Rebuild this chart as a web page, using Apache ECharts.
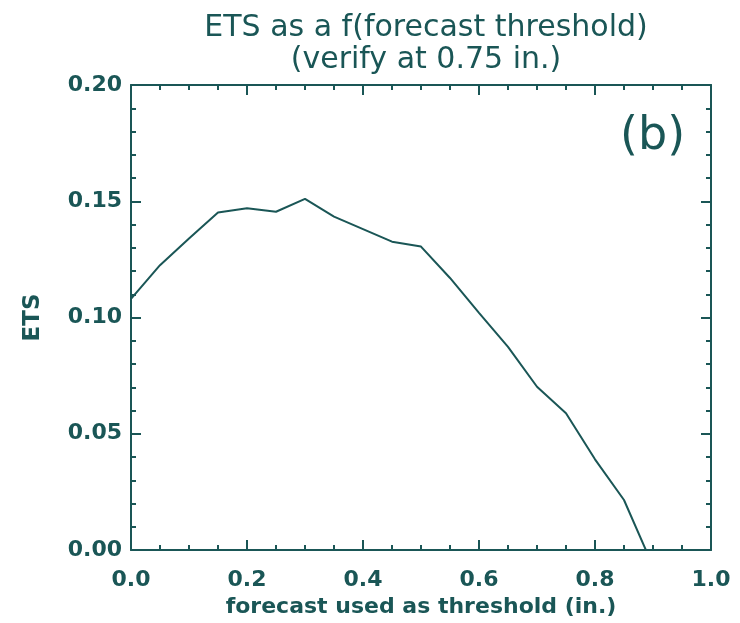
<!DOCTYPE html>
<html>
<head>
<meta charset="utf-8">
<script src="https://cdn.jsdelivr.net/npm/echarts@6/dist/echarts.min.js"></script>
<style>html,body{margin:0;padding:0;background:#fff}#c{width:740px;height:623px}</style>
</head>
<body>
<div id="c"></div>
<script>
const xValues = [0.00, 0.05, 0.10, 0.15, 0.20, 0.25, 0.30, 0.35, 0.40, 0.45, 0.50, 0.55, 0.60, 0.65, 0.70, 0.75, 0.80, 0.85, 0.90];
const etsValues = [0.108, 0.1225, 0.134, 0.1452, 0.147, 0.1455, 0.151, 0.1434, 0.138, 0.1326, 0.1305, 0.117, 0.102, 0.0874, 0.0702, 0.0588, 0.039, 0.0215, -0.007];
const xTicks = ['0.0', '0.2', '0.4', '0.6', '0.8', '1.0'];
const yTicks = ['0.00', '0.05', '0.10', '0.15', '0.20'];

const C = '#1a5656';
const FONT = 'DejaVu Sans';
const chart = echarts.init(document.getElementById('c'), null, {renderer: 'canvas'});

function axisCommon(extra) {
  return Object.assign({
    axisLine: {show: true, onZero: false, lineStyle: {color: C, width: 2}},
    axisTick: {show: true, inside: true, length: 10, lineStyle: {color: C, width: 2}},
    splitLine: {show: false},
    minorSplitLine: {show: false}
  }, extra);
}

const option = {
  backgroundColor: '#fff',
  animation: false,
  title: {
    text: 'ETS as a f(forecast threshold)\n(verify at 0.75 in.)',
    left: 421, top: 7, textAlign: 'center',
    textStyle: {color: C, fontFamily: FONT, fontSize: 30, fontWeight: 'normal', lineHeight: 32}
  },
  grid: {left: 131, right: 29, top: 85, bottom: 73},
  xAxis: [
    axisCommon({
      type: 'value', min: 0, max: 1, interval: 0.2, position: 'bottom',
      minorTick: {show: true, splitNumber: 4, length: 5, lineStyle: {color: C, width: 2}},
      axisLabel: {color: C, fontFamily: FONT, fontSize: 22, fontWeight: 'bold', margin: 19,
        formatter: v => xTicks[Math.round(v / 0.2)]},
      name: 'forecast used as threshold (in.)', nameLocation: 'middle', nameGap: 46,
      nameTextStyle: {color: C, fontFamily: FONT, fontSize: 22, fontWeight: 'bold'}
    }),
    axisCommon({
      type: 'value', min: 0, max: 1, interval: 0.2, position: 'top',
      minorTick: {show: true, splitNumber: 4, length: 5, lineStyle: {color: C, width: 2}},
      axisLabel: {show: false}
    })
  ],
  yAxis: [
    axisCommon({
      type: 'value', min: 0, max: 0.2, interval: 0.05, position: 'left',
      minorTick: {show: true, splitNumber: 5, length: 5, lineStyle: {color: C, width: 2}},
      axisLabel: {color: C, fontFamily: FONT, fontSize: 22, fontWeight: 'bold', margin: 9,
        formatter: v => yTicks[Math.round(v / 0.05)]},
      name: 'ETS', nameLocation: 'middle', nameGap: 86, nameRotate: 90,
      nameTextStyle: {color: C, fontFamily: FONT, fontSize: 23, fontWeight: 'bold'}
    }),
    axisCommon({
      type: 'value', min: 0, max: 0.2, interval: 0.05, position: 'right',
      minorTick: {show: true, splitNumber: 5, length: 5, lineStyle: {color: C, width: 2}},
      axisLabel: {show: false}
    })
  ],
  graphic: [{
    type: 'text', left: 620, top: 114,
    style: {text: '(b)', fill: C, font: '46px "DejaVu Sans"'}
  }],
  series: [{
    type: 'line',
    xAxisIndex: 0, yAxisIndex: 0,
    data: xValues.map((x, i) => [x, etsValues[i]]),
    showSymbol: false, clip: true,
    lineStyle: {color: C, width: 2}
  }]
};
chart.setOption(option);
</script>
</body>
</html>
